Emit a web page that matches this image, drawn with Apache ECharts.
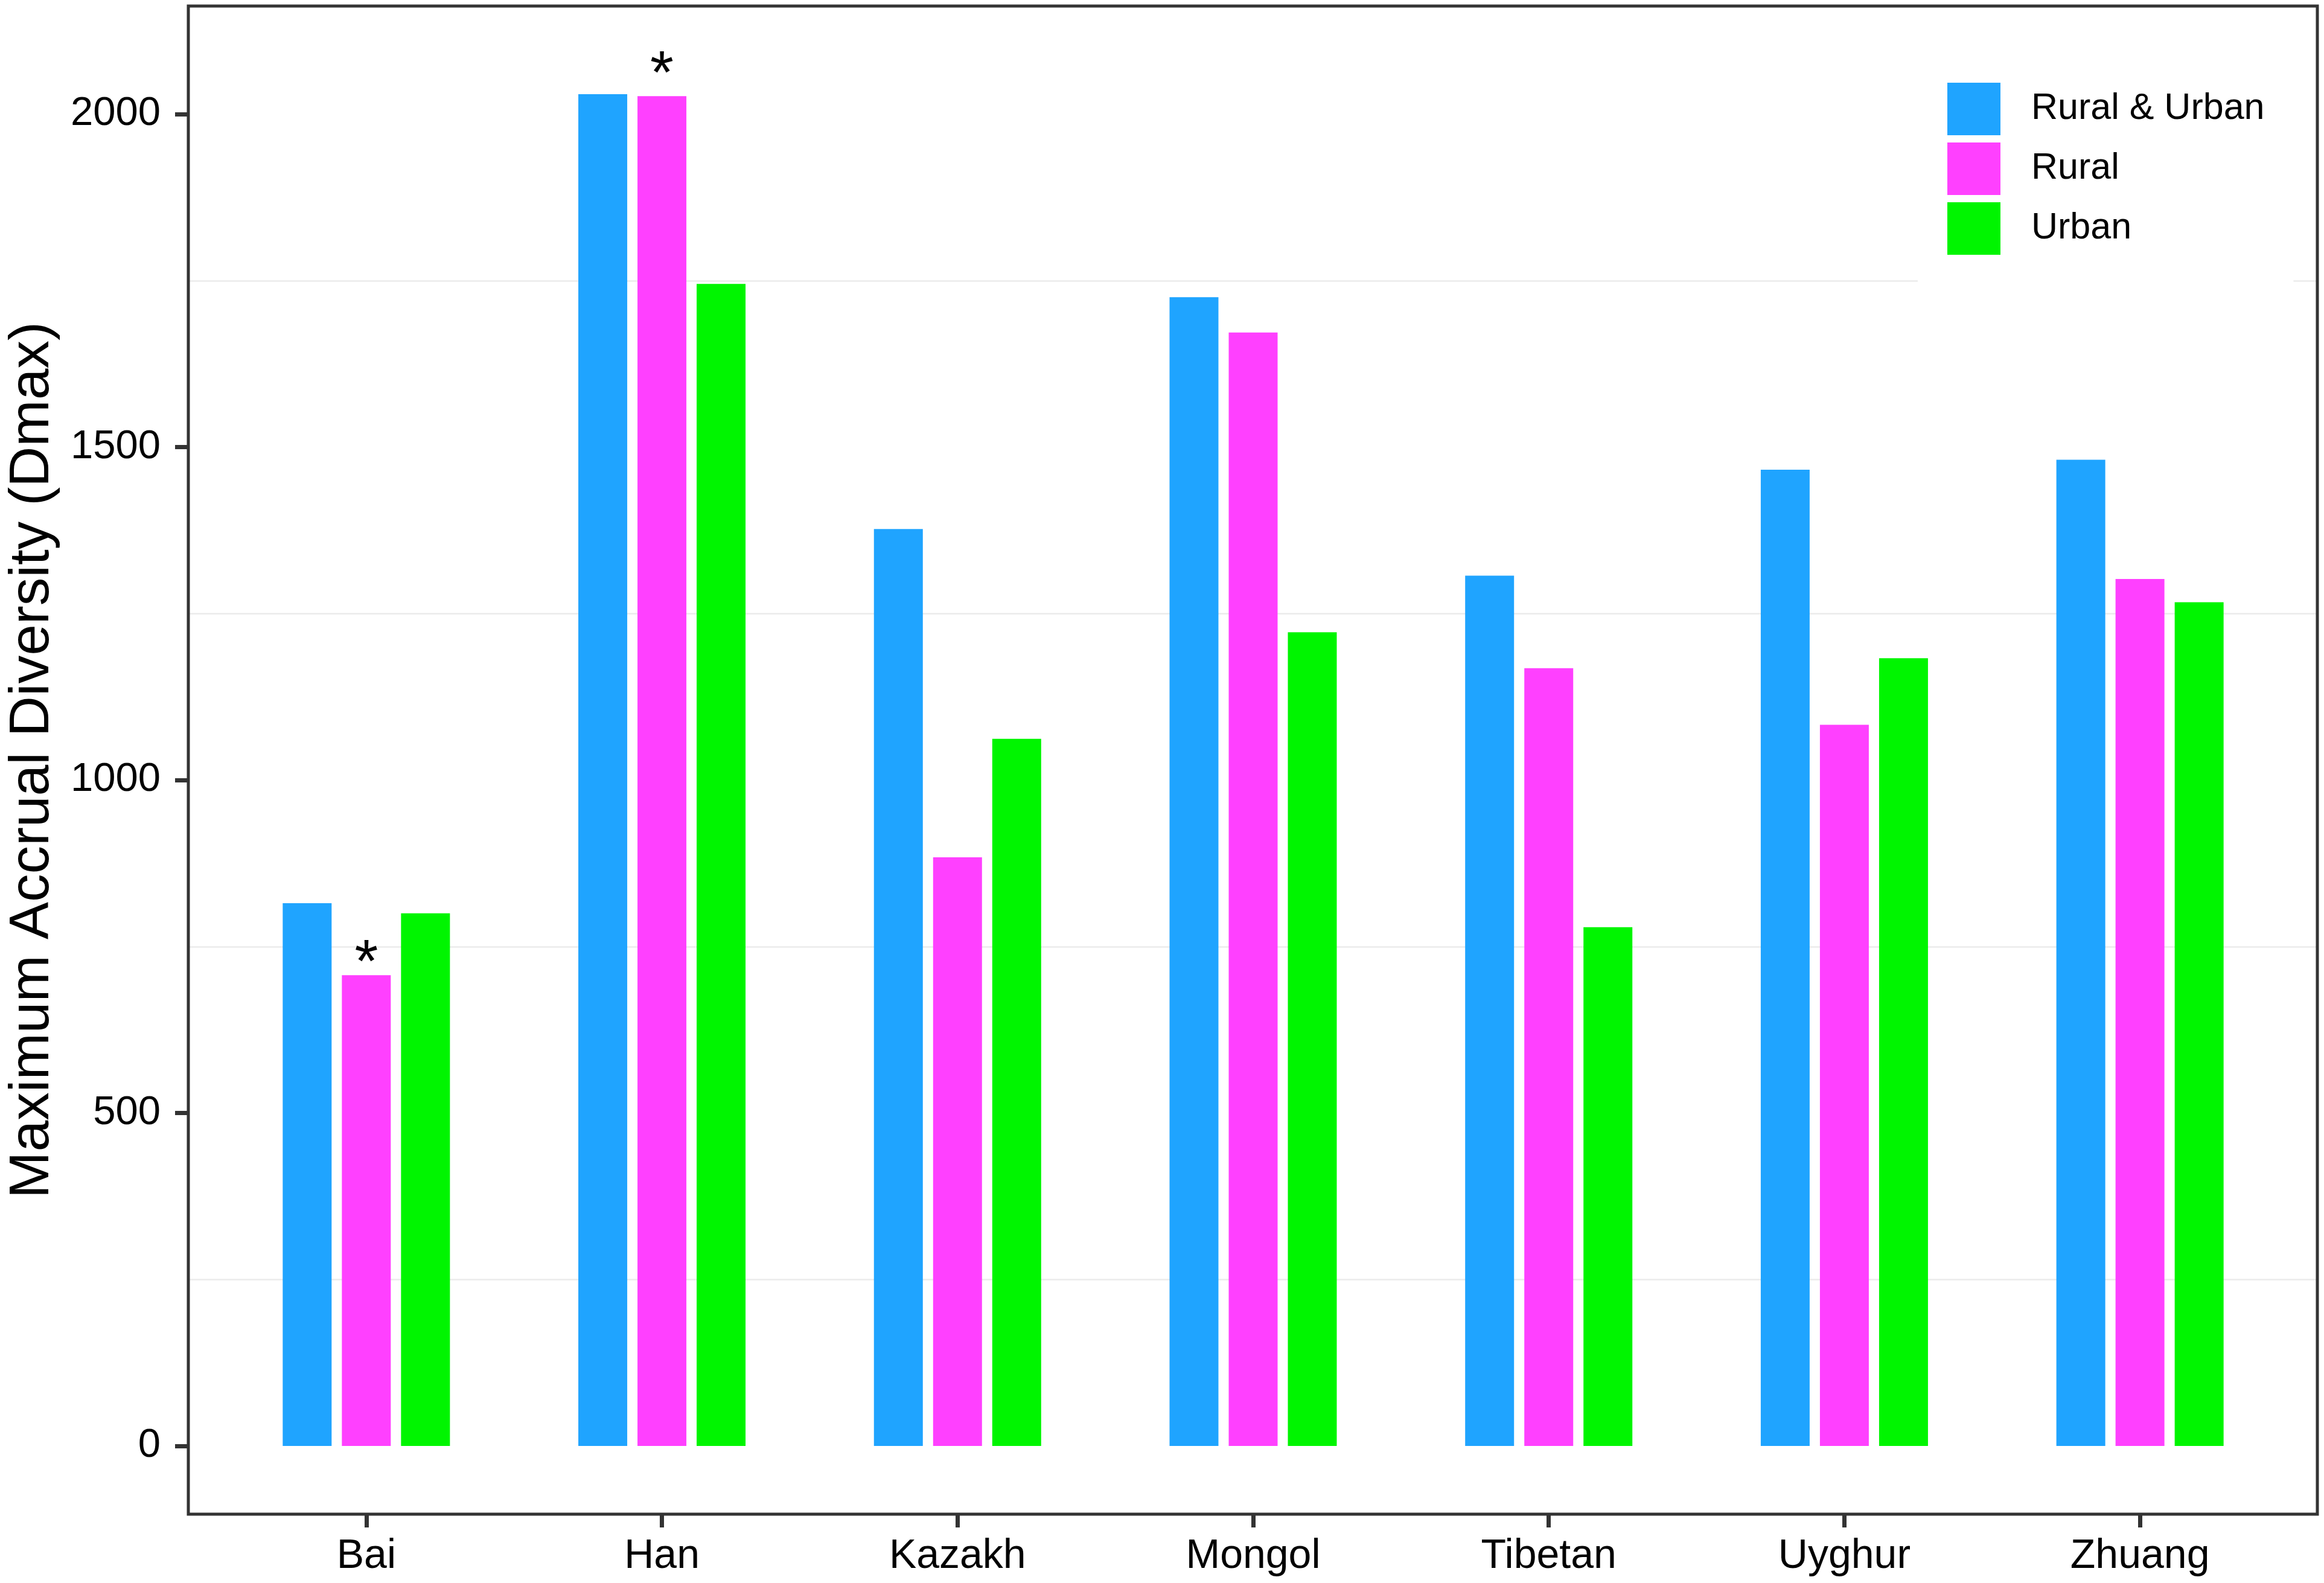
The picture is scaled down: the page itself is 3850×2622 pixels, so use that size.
<!DOCTYPE html>
<html>
<head>
<meta charset="utf-8">
<script src="https://cdn.jsdelivr.net/npm/echarts@6/dist/echarts.min.js"></script>
<style>
html,body{margin:0;padding:0;background:#fff;}
#chart{width:3850px;height:2622px;}
</style>
</head>
<body>
<div id="chart"></div>
<script>
const categories = ['Bai', 'Han', 'Kazakh', 'Mongol', 'Tibetan', 'Uyghur', 'Zhuang'];
const seriesNames = ['Rural & Urban', 'Rural', 'Urban'];
const ruralUrban = [815, 2030, 1377, 1725, 1307, 1466, 1481];
const rural = [707, 2027, 884, 1672, 1168, 1083, 1302];
const urban = [800, 1745, 1062, 1222, 779, 1183, 1267];
const ruralStars = [0, 1];           // indices of Rural bars marked with *
const yTicks = [0, 500, 1000, 1500, 2000];
const minorGrid = [250, 750, 1250, 1750];
const colors = ['#1FA4FF', '#FF40FF', '#00F500'];

const FONT = 'Liberation Sans, Arial, Helvetica, sans-serif';
const chart = echarts.init(document.getElementById('chart'), null, {renderer: 'canvas', devicePixelRatio: 1});

const starOffsets = {0: [0, 33], 1: [0, 17]};
const ruralData = rural.map((v, i) => {
  if (ruralStars.indexOf(i) >= 0) {
    return {value: v, label: {show: true, formatter: '*', position: 'top', distance: 0,
      offset: starOffsets[i], fontSize: 100, lineHeight: 100, color: '#000', fontFamily: FONT}};
  }
  return v;
});

const barCommon = {type: 'bar', xAxisIndex: 0, yAxisIndex: 0, barWidth: 81, barGap: '21%', clip: false};

chart.setOption({
  backgroundColor: '#ffffff',
  animation: false,
  textStyle: {fontFamily: FONT},
  grid: [
    {left: 360, right: 60, top: 10, bottom: 114},                 // bars
    {left: 312, right: 11, top: 189, bottom: 227},                // 0..2000 ticks/labels
    {left: 312, right: 11, top: 464.75, bottom: 502.75}           // minor grid 250..1750
  ],
  xAxis: [
    {type: 'category', gridIndex: 0, data: categories, position: 'bottom',
      axisLine: {show: false, onZero: false},
      axisTick: {show: true, alignWithLabel: true, length: 22, lineStyle: {color: '#333333', width: 7}},
      axisLabel: {fontSize: 68, color: '#000', margin: 36, fontFamily: FONT},
      splitLine: {show: false}},
    {type: 'value', gridIndex: 1, min: 0, max: 1, show: false},
    {type: 'value', gridIndex: 2, min: 0, max: 1, show: false}
  ],
  yAxis: [
    {type: 'value', gridIndex: 0, min: -102.4, max: 2162.3, offset: 48,
      name: 'Maximum Accrual Diversity (Dmax)', nameLocation: 'middle', nameGap: 213,
      nameTextStyle: {fontSize: 93, color: '#000', fontFamily: FONT},
      axisLine: {show: false}, axisTick: {show: false}, axisLabel: {show: false}, splitLine: {show: false}},
    {type: 'value', gridIndex: 1, min: yTicks[0], max: yTicks[yTicks.length - 1], interval: 500,
      axisLine: {show: false},
      axisTick: {show: true, length: 22, lineStyle: {color: '#333333', width: 7}},
      axisLabel: {fontSize: 67, color: '#000', margin: 46, fontFamily: FONT,
        formatter: function (v) { return String(v); }},
      splitLine: {show: false}},
    {type: 'value', gridIndex: 2, min: minorGrid[0], max: minorGrid[minorGrid.length - 1], interval: 500,
      axisLine: {show: false}, axisTick: {show: false}, axisLabel: {show: false},
      splitLine: {show: true, lineStyle: {color: '#EBEBEB', width: 2.5}}}
  ],
  legend: {
    orient: 'vertical', left: 3177, top: 88,
    backgroundColor: '#ffffff',
    padding: [49, 48, 49, 49],
    itemWidth: 88, itemHeight: 87, itemGap: 12,
    icon: 'rect',
    textStyle: {fontSize: 61, color: '#000', fontFamily: FONT, padding: [12, 0, 0, 46]},
    data: seriesNames,
    z: 10
  },
  graphic: [{
    type: 'rect', z: 20, silent: true,
    shape: {x: 312, y: 10, width: 3527, height: 2498},
    style: {fill: 'none', stroke: '#333333', lineWidth: 5}
  }],
  series: [
    Object.assign({}, barCommon, {name: seriesNames[0], data: ruralUrban, itemStyle: {color: colors[0]}}),
    Object.assign({}, barCommon, {name: seriesNames[1], data: ruralData, itemStyle: {color: colors[1]}}),
    Object.assign({}, barCommon, {name: seriesNames[2], data: urban, itemStyle: {color: colors[2]}})
  ]
});
</script>
</body>
</html>
